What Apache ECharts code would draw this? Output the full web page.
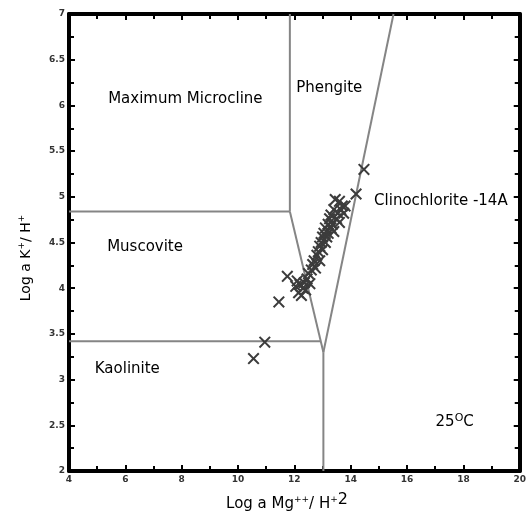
<!DOCTYPE html>
<html><head><meta charset="utf-8">
<script src="https://cdn.jsdelivr.net/npm/echarts@6/dist/echarts.min.js"></script>
<style>html,body{margin:0;padding:0;background:#fff}#c{width:529px;height:521px}</style>
</head><body><div id="c"></div>
<script>
// ---- data ----
var xTicks = [4, 6, 8, 10, 12, 14, 16, 18, 20];
var yTicks = [2, 2.5, 3, 3.5, 4, 4.5, 5, 5.5, 6, 6.5, 7];
// phase boundaries [x, y]
var bMuscMicro = [[4, 4.84], [11.84, 4.84]];
var bPhengLeft = [[11.84, 4.84], [11.84, 7]];
var bMuscClino = [[11.84, 4.84], [13.03, 3.30]];
var bKaolMusc = [[4, 3.42], [12.93, 3.42]];
var bKaolClino = [[13.03, 3.30], [13.03, 2]];
var bPhengClino = [[13.03, 3.30], [15.52, 7]];
// samples [log a Mg++/H+2, log a K+/H+]
var samples = [
  [10.55, 3.23], [10.95, 3.41], [11.45, 3.85], [11.75, 4.13],
  [12.05, 4.02], [12.1, 4.08], [12.15, 3.95], [12.2, 4.04], [12.25, 3.92], [12.3, 4.0],
  [12.35, 4.06], [12.4, 3.98], [12.45, 4.1], [12.5, 4.16], [12.55, 4.05], [12.6, 4.2],
  [12.65, 4.26], [12.7, 4.3], [12.75, 4.22], [12.8, 4.36], [12.85, 4.4], [12.9, 4.3],
  [12.9, 4.46], [12.95, 4.5], [13.0, 4.42], [13.0, 4.56], [13.05, 4.6], [13.1, 4.5],
  [13.1, 4.66], [13.15, 4.56], [13.2, 4.7], [13.2, 4.6], [13.25, 4.76], [13.3, 4.66],
  [13.3, 4.8], [13.35, 4.7], [13.4, 4.62], [13.4, 4.86], [13.45, 4.97], [13.5, 4.76],
  [13.55, 4.82], [13.6, 4.72], [13.65, 4.86], [13.7, 4.9], [13.75, 4.82], [13.8, 4.9],
  [13.6, 4.95], [14.19, 5.03], [14.47, 5.30]
];
// region labels [x, y, text]
var regionLabels = [
  [8.13, 6.07, 'Maximum Microcline'],
  [6.70, 4.45, 'Muscovite'],
  [6.07, 3.11, 'Kaolinite'],
  [13.24, 6.19, 'Phengite'],
  [17.2, 4.95, 'Clinochlorite -14A']
];
var tempLabel = [17.69, 2.53];

var chart = echarts.init(document.getElementById('c'));
var font = 'DejaVu Sans, Verdana, sans-serif';
var cross = 'path://M0,1.2L1.2,0L5,3.8L8.8,0L10,1.2L6.2,5L10,8.8L8.8,10L5,6.2L1.2,10L0,8.8L3.8,5Z';
function bline(d) {
  return {type: 'line', data: d, symbol: 'none', silent: true, z: 2,
    lineStyle: {color: '#858585', width: 2}, animation: false};
}
var axisCommon = {
  axisLine: {show: true, lineStyle: {color: '#000', width: 4}},
  axisTick: {show: true, inside: true, length: 6, lineStyle: {color: '#000', width: 2}},
  minorTick: {show: true, splitNumber: 2, length: 5, lineStyle: {color: '#000', width: 2}},
  splitLine: {show: false}
};
function ax(extra) { return Object.assign({}, JSON.parse(JSON.stringify(axisCommon)), extra); }
var lblStyle = {fontFamily: font, fontSize: 9, fontWeight: 'bold', color: '#333'};
chart.setOption({
  animation: false,
  backgroundColor: '#fff',
  grid: {left: 69, right: 3, top: 14, bottom: 50},
  xAxis: [
    ax({type: 'value', min: 4, max: 20, interval: 2, position: 'bottom',
      axisLabel: Object.assign({margin: 4, formatter: function (v) { return xTicks.indexOf(v) >= 0 ? String(v) : ''; }}, lblStyle)}),
    ax({type: 'value', min: 4, max: 20, interval: 2, position: 'top', axisLabel: {show: false}})
  ],
  yAxis: [
    ax({type: 'value', min: 2, max: 7, interval: 0.5, position: 'left',
      axisLabel: Object.assign({margin: 4, formatter: function (v) { return yTicks.indexOf(v) >= 0 ? String(v) : ''; }}, lblStyle)}),
    ax({type: 'value', min: 2, max: 7, interval: 0.5, position: 'right', axisLabel: {show: false}})
  ],
  graphic: [
    {type: 'text', x: 287, y: 504, style: {
      text: '{n|Log a Mg}{s|++}{n|/ H}{s|+}{b|2}', textAlign: 'center', textVerticalAlign: 'middle',
      rich: {n: {fontFamily: font, fontSize: 15, color: '#000'},
             s: {fontFamily: font, fontSize: 9, color: '#000', padding: [0, 0, 8, 0]},
             b: {fontFamily: font, fontSize: 16, color: '#000', padding: [0, 0, 8, 0]}}}},
    {type: 'text', x: 26, y: 258, rotation: Math.PI / 2, style: {
      text: '{n|Log a K}{s|+}{n|/ H}{s|+}', textAlign: 'center', textVerticalAlign: 'middle',
      rich: {n: {fontFamily: font, fontSize: 14, color: '#000'},
             s: {fontFamily: font, fontSize: 9, color: '#000', padding: [0, 0, 9, 0]}}}}
  ],
  series: [
    bline(bMuscMicro), bline(bPhengLeft), bline(bMuscClino),
    bline(bKaolMusc), bline(bKaolClino), bline(bPhengClino),
    {type: 'scatter', data: samples, symbol: cross, symbolSize: 12, z: 5,
      itemStyle: {color: '#3c3c3c', opacity: 1}},
    {type: 'scatter', symbol: 'circle', symbolSize: 1, silent: true, z: 6,
      itemStyle: {color: 'rgba(0,0,0,0)', opacity: 1},
      data: regionLabels.map(function (r) { return {value: [r[0], r[1]], name: r[2]}; }),
      label: {show: true, position: 'inside', formatter: '{b}', fontFamily: font, fontSize: 15, color: '#000'}},
    {type: 'scatter', symbol: 'circle', symbolSize: 1, silent: true, z: 6,
      itemStyle: {color: 'rgba(0,0,0,0)', opacity: 1},
      data: [tempLabel],
      label: {show: true, position: 'inside', formatter: '{n|25}{s|O}{n|C}',
        rich: {n: {fontFamily: font, fontSize: 15, color: '#000'},
               s: {fontFamily: font, fontSize: 11, color: '#000', padding: [0, 0, 9, 0]}}}}
  ]
});
</script></body></html>
